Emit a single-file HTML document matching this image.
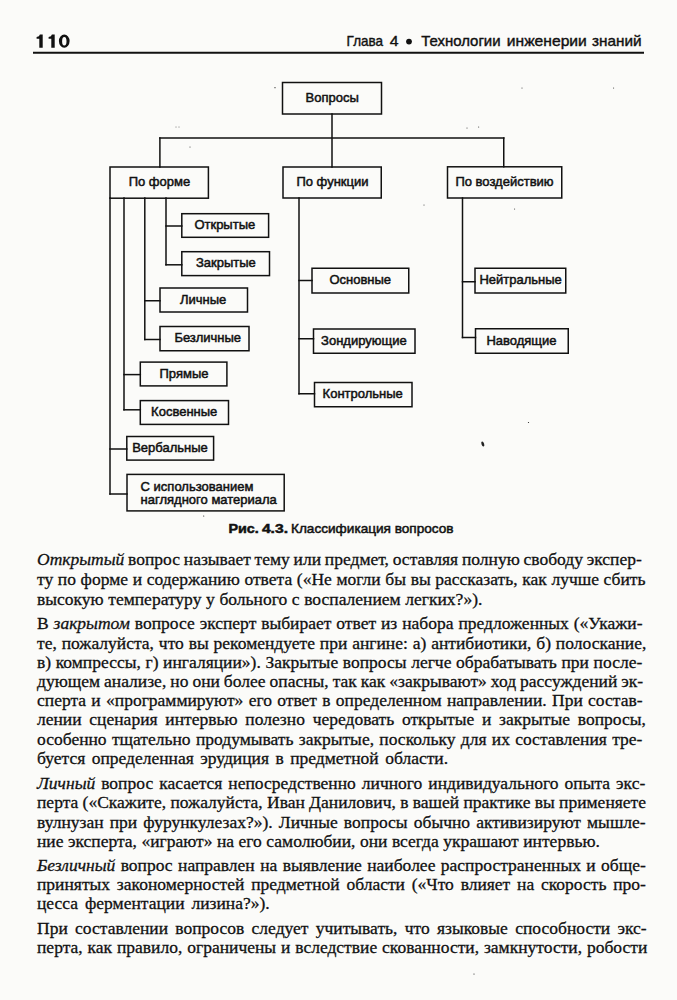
<!DOCTYPE html>
<html><head><meta charset="utf-8"><style>
html,body{margin:0;padding:0;background:#fbfbf9;}
body{width:677px;height:1000px;position:relative;overflow:hidden;}
svg{position:absolute;left:0;top:0;}
svg line,svg rect{stroke:#111;stroke-width:1.5;fill:none;stroke-linecap:square;}
svg text{font-family:"Liberation Sans",sans-serif;font-size:13px;fill:#111;stroke:#111;stroke-width:0.5px;}
svg text.cap{font-size:13px;}
svg text.pn{font-size:19.3px;font-weight:bold;letter-spacing:1.6px;}
svg text.hd{font-size:15px;}
.ln{position:absolute;left:37px;height:20px;line-height:20px;font-family:"Liberation Serif",serif;font-size:17.5px;color:#111;white-space:pre;-webkit-text-stroke:0.3px #111;}
</style></head><body>
<svg width="677" height="1000" viewBox="0 0 677 1000">
<line x1="332" y1="114" x2="332" y2="167"/>
<line x1="159.9" y1="138" x2="159.9" y2="167"/>
<line x1="503.75" y1="138" x2="503.75" y2="166.8"/>
<line x1="110" y1="198" x2="110" y2="494"/>
<line x1="124" y1="198" x2="124" y2="409.8"/>
<line x1="144.8" y1="198" x2="144.8" y2="339.5"/>
<line x1="166" y1="198" x2="166" y2="264.8"/>
<line x1="299" y1="198" x2="299" y2="393.75"/>
<line x1="462.5" y1="198" x2="462.5" y2="337.5"/>
<line x1="159.9" y1="138" x2="503.75" y2="138"/>
<line x1="166" y1="226" x2="181.8" y2="226"/>
<line x1="166" y1="264.8" x2="181.8" y2="264.8"/>
<line x1="144.8" y1="300.75" x2="160" y2="300.75"/>
<line x1="144.8" y1="339.5" x2="160" y2="339.5"/>
<line x1="124" y1="374.6" x2="140.3" y2="374.6"/>
<line x1="124" y1="409.8" x2="140.3" y2="409.8"/>
<line x1="110" y1="449" x2="126.8" y2="449"/>
<line x1="110" y1="494" x2="127" y2="494"/>
<line x1="299" y1="280.5" x2="312" y2="280.5"/>
<line x1="299" y1="338.75" x2="313.5" y2="338.75"/>
<line x1="299" y1="393.75" x2="314.5" y2="393.75"/>
<line x1="462.5" y1="281.75" x2="475" y2="281.75"/>
<line x1="462.5" y1="337.5" x2="475.5" y2="337.5"/>
<rect x="282.5" y="82.5" width="99.00" height="31.50"/>
<text x="305.6" y="102.0">Вопросы</text>
<rect x="110" y="167" width="98.40" height="31.20"/>
<text x="128.7" y="186.4">По форме</text>
<rect x="283" y="167" width="98.25" height="31.00"/>
<text x="296.4" y="186.3">По функции</text>
<rect x="447.5" y="166.8" width="114.25" height="31.20"/>
<text x="455.4" y="186.2">По воздействию</text>
<rect x="181.8" y="213.7" width="86.80" height="23.60"/>
<text x="194.4" y="229.3">Открытые</text>
<rect x="181.8" y="251.7" width="87.70" height="23.90"/>
<text x="195.9" y="267.4">Закрытые</text>
<rect x="160" y="288" width="87.50" height="24.00"/>
<text x="179.9" y="303.8">Личные</text>
<rect x="160" y="326.5" width="89.00" height="24.25"/>
<text x="174.4" y="342.4">Безличные</text>
<rect x="140.3" y="362.1" width="86.60" height="23.80"/>
<text x="159.5" y="377.8">Прямые</text>
<rect x="140.3" y="400.6" width="88.20" height="23.80"/>
<text x="151.1" y="416.3">Косвенные</text>
<rect x="126.8" y="436.5" width="86.80" height="23.60"/>
<text x="132.2" y="452.1">Вербальные</text>
<rect x="312" y="268.25" width="96.75" height="24.75"/>
<text x="329.4" y="284.4">Основные</text>
<rect x="313.5" y="329" width="101.50" height="24.25"/>
<text x="321.1" y="344.9">Зондирующие</text>
<rect x="314.5" y="382.5" width="97.50" height="24.25"/>
<text x="322.6" y="398.4">Контрольные</text>
<rect x="475" y="268.25" width="90.75" height="24.75"/>
<text x="479.4" y="284.4">Нейтральные</text>
<rect x="475.5" y="328.75" width="92.75" height="24.50"/>
<text x="486.4" y="344.8">Наводящие</text>
<rect x="127" y="474.4" width="157.2" height="36.5"/>
<text x="140.6" y="491.1">С использованием</text>
<text x="140.6" y="504.4">наглядного материала</text>
<text x="228.40" y="533.1" textLength="30.40" lengthAdjust="spacingAndGlyphs" style="font-size:13px;font-weight:bold">Рис.</text>
<text x="261.90" y="533.1" textLength="26.10" lengthAdjust="spacingAndGlyphs" style="font-size:13px;font-weight:bold">4.3.</text>
<text x="291.00" y="533.1" textLength="162.60" lengthAdjust="spacingAndGlyphs" style="font-size:13px">Классификация вопросов</text>
<text x="346.60" y="46.1" textLength="36.40" lengthAdjust="spacingAndGlyphs" style="font-size:14.5px;stroke-width:0.4px">Глава</text>
<text x="389.80" y="46.1" textLength="8.80" lengthAdjust="spacingAndGlyphs" style="font-size:14.5px;stroke-width:0.4px">4</text>
<text x="421.20" y="46.1" textLength="79.40" lengthAdjust="spacingAndGlyphs" style="font-size:14.5px;stroke-width:0.4px">Технологии</text>
<text x="506.80" y="46.1" textLength="80.00" lengthAdjust="spacingAndGlyphs" style="font-size:14.5px;stroke-width:0.4px">инженерии</text>
<text x="592.00" y="46.1" textLength="49.60" lengthAdjust="spacingAndGlyphs" style="font-size:14.5px;stroke-width:0.4px">знаний</text>
<ellipse cx="482.8" cy="444" rx="1.3" ry="2.6" transform="rotate(-20 482.8 444)" style="fill:#222;stroke:none"/>
<ellipse cx="474" cy="974" rx="0.6" ry="0.5" transform="rotate(0 474 974)" style="fill:#222;stroke:none"/>
<ellipse cx="203.7" cy="516" rx="0.6" ry="0.6" transform="rotate(0 203.7 516)" style="fill:#222;stroke:none"/>
<ellipse cx="522" cy="88" rx="0.5" ry="0.5" transform="rotate(0 522 88)" style="fill:#222;stroke:none"/>
<ellipse cx="613.6" cy="88" rx="0.5" ry="0.5" transform="rotate(0 613.6 88)" style="fill:#222;stroke:none"/>
<ellipse cx="478.7" cy="127" rx="0.5" ry="0.5" transform="rotate(0 478.7 127)" style="fill:#222;stroke:none"/>
<ellipse cx="467" cy="128" rx="0.5" ry="0.5" transform="rotate(0 467 128)" style="fill:#222;stroke:none"/>
<ellipse cx="424" cy="205" rx="0.5" ry="0.5" transform="rotate(0 424 205)" style="fill:#222;stroke:none"/>
<ellipse cx="514.6" cy="209" rx="0.5" ry="0.5" transform="rotate(0 514.6 209)" style="fill:#222;stroke:none"/>
<ellipse cx="528.5" cy="422.5" rx="0.6" ry="0.6" transform="rotate(0 528.5 422.5)" style="fill:#222;stroke:none"/>
<ellipse cx="275" cy="87.7" rx="0.6" ry="0.6" transform="rotate(0 275 87.7)" style="fill:#222;stroke:none"/>
<ellipse cx="190" cy="147" rx="0.5" ry="0.5" transform="rotate(0 190 147)" style="fill:#222;stroke:none"/>
<ellipse cx="176" cy="127" rx="0.5" ry="0.4" transform="rotate(0 176 127)" style="fill:#222;stroke:none"/>
<ellipse cx="179" cy="127" rx="0.5" ry="0.4" transform="rotate(0 179 127)" style="fill:#222;stroke:none"/>
<path d="M42.7 34.6 L42.7 47.7 L39.3 47.7 L39.3 38.8 L36.6 38.8 L36.6 36.9 Q39.5 36.699999999999996 39.9 34.6 Z" style="fill:#111;stroke:none"/>
<path d="M54.7 34.6 L54.7 47.7 L51.3 47.7 L51.3 38.8 L48.6 38.8 L48.6 36.9 Q51.5 36.699999999999996 51.9 34.6 Z" style="fill:#111;stroke:none"/>
<path fill-rule="evenodd" d="M58.9 41.1 A5.35 6.6 0 1 0 69.6 41.1 A5.35 6.6 0 1 0 58.9 41.1 Z M62.1 41.25 A2.2 4.35 0 1 0 66.5 41.25 A2.2 4.35 0 1 0 62.1 41.25 Z" style="fill:#111;stroke:none"/>
<circle cx="409" cy="41.6" r="2.9" style="fill:#111;stroke:none"/>
<line x1="34" y1="52.8" x2="643" y2="52.8" style="stroke-width:2"/>
</svg>
<div class="ln" style="top:549.0px;word-spacing:-0.61px"><i>Открытый</i> вопрос называет тему или предмет, оставляя полную свободу экспер-</div>
<div class="ln" style="top:569.0px;word-spacing:0.28px">ту по форме и содержанию ответа («Не могли бы вы рассказать, как лучше сбить</div>
<div class="ln" style="top:588.9px;word-spacing:0.27px">высокую температуру у больного с воспалением легких?»).</div>
<div class="ln" style="top:612.8px;word-spacing:0.54px">В <i>закрытом</i> вопросе эксперт выбирает ответ из набора предложенных («Укажи-</div>
<div class="ln" style="top:632.5px;word-spacing:0.50px">те, пожалуйста, что вы рекомендуете при ангине: а) антибиотики, б) полоскание,</div>
<div class="ln" style="top:651.5px;word-spacing:0.27px">в) компрессы, г) ингаляции»). Закрытые вопросы легче обрабатывать при после-</div>
<div class="ln" style="top:671.0px;word-spacing:-0.37px">дующем анализе, но они более опасны, так как «закрывают» ход рассуждений эк-</div>
<div class="ln" style="top:690.0px;word-spacing:0.93px">сперта и «программируют» его ответ в определенном направлении. При состав-</div>
<div class="ln" style="top:709.0px;word-spacing:3.38px">лении сценария интервью полезно чередовать открытые и закрытые вопросы,</div>
<div class="ln" style="top:729.0px;word-spacing:0.92px">особенно тщательно продумывать закрытые, поскольку для их составления тре-</div>
<div class="ln" style="top:748.4px;word-spacing:2.10px">буется определенная эрудиция в предметной области.</div>
<div class="ln" style="top:772.5px;word-spacing:1.61px"><i>Личный</i> вопрос касается непосредственно личного индивидуального опыта экс-</div>
<div class="ln" style="top:792.0px;word-spacing:-0.07px">перта («Скажите, пожалуйста, Иван Данилович, в вашей практике вы применяете</div>
<div class="ln" style="top:811.5px;word-spacing:1.76px">вулнузан при фурункулезах?»). Личные вопросы обычно активизируют мышле-</div>
<div class="ln" style="top:830.8px;word-spacing:0.10px">ние эксперта, «играют» на его самолюбии, они всегда украшают интервью.</div>
<div class="ln" style="top:854.7px;word-spacing:1.04px"><i>Безличный</i> вопрос направлен на выявление наиболее распространенных и обще-</div>
<div class="ln" style="top:873.5px;word-spacing:2.41px">принятых закономерностей предметной области («Что влияет на скорость про-</div>
<div class="ln" style="top:893.0px;word-spacing:2.55px">цесса ферментации лизина?»).</div>
<div class="ln" style="top:917.5px;word-spacing:2.92px">При составлении вопросов следует учитывать, что языковые способности экс-</div>
<div class="ln" style="top:936.5px;word-spacing:0.52px">перта, как правило, ограничены и вследствие скованности, замкнутости, робости</div>
</body></html>
